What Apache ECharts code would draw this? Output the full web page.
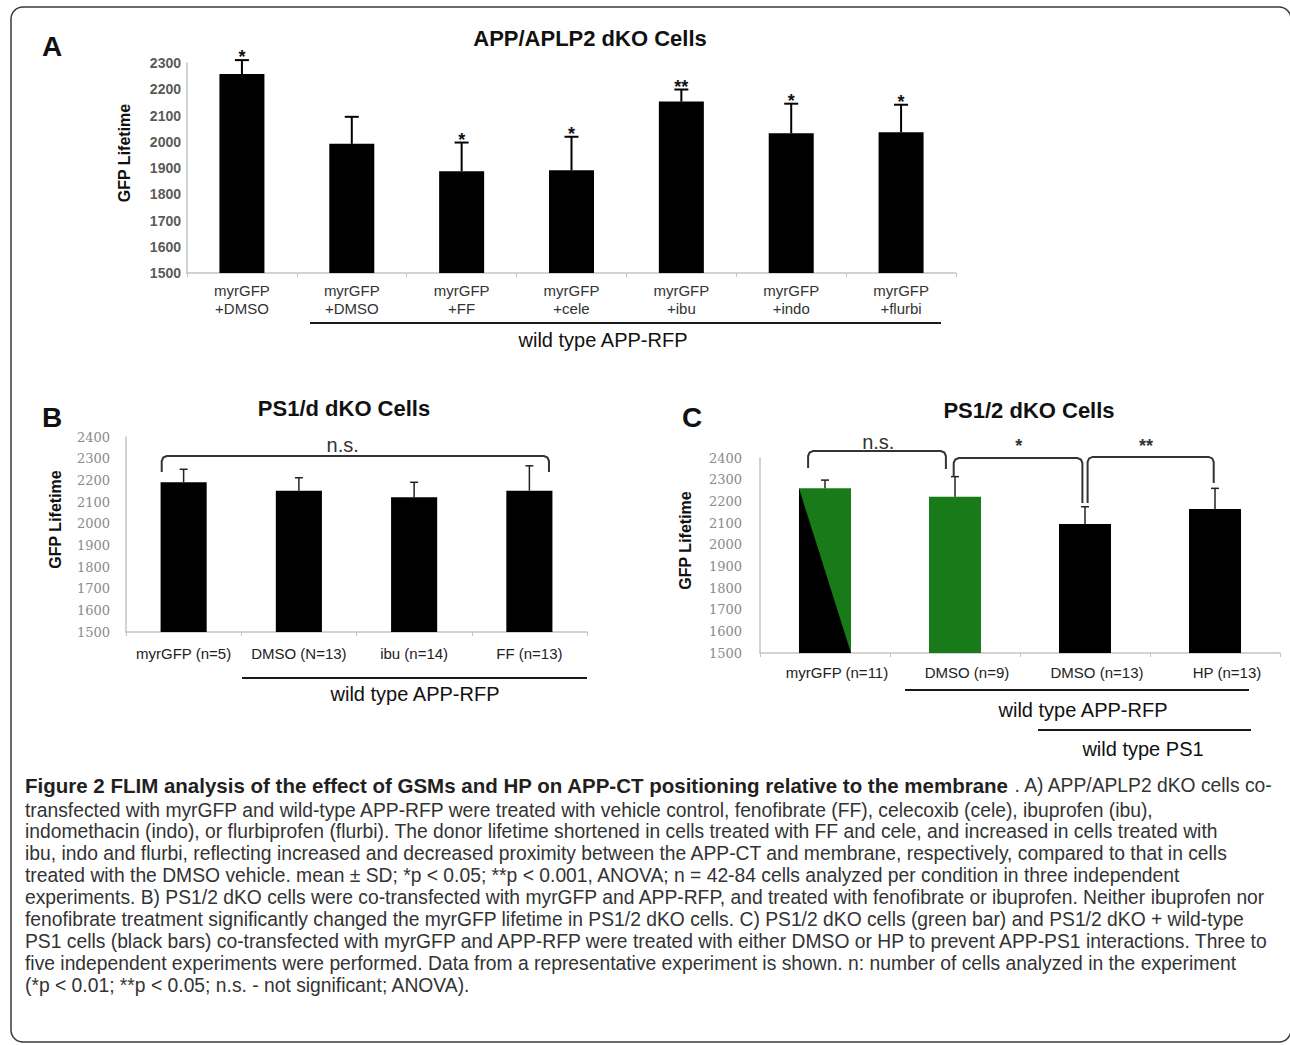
<!DOCTYPE html>
<html><head><meta charset="utf-8">
<script src="https://cdn.jsdelivr.net/npm/echarts@6/dist/echarts.min.js"></script>
<style>html,body{margin:0;padding:0;background:#fff}#c{width:1290px;height:1045px}</style>
</head><body><div id="c"></div>
<script>
// ---------- Panel A : APP/APLP2 dKO Cells ----------
const catsA = ['myrGFP\n+DMSO','myrGFP\n+DMSO','myrGFP\n+FF','myrGFP\n+cele','myrGFP\n+ibu','myrGFP\n+indo','myrGFP\n+flurbi'];
const meanA = [2258, 1992, 1888, 1891, 2153, 2032, 2036];
const sdA   = [53, 103, 109, 128, 46, 113, 105];
const sigA  = ['*', '', '*', '*', '**', '*', '*'];
const ticksA = {min: 1500, max: 2300, step: 100};

// ---------- Panel B : PS1/d dKO Cells ----------
const catsB = ['myrGFP (n=5)', 'DMSO (N=13)', 'ibu (n=14)', 'FF (n=13)'];
const meanB = [2191, 2152, 2122, 2152];
const sdB   = [60, 60, 69, 115];
const brFromB = [-0.19], brToB = [3.17], brTopB = [2312], brLeftB = [2238], brRightB = [2238];
const brTextB = ['n.s.'], brTextXB = [1.38], brTextYB = [2363];
const ticksB = {min: 1500, max: 2400, step: 100};

// ---------- Panel C : PS1/2 dKO Cells ----------
const catsC = ['myrGFP (n=11)', 'DMSO (n=9)', 'DMSO (n=13)', 'HP (n=13)'];
const meanC = [2260, 2221, 2095, 2165];
const sdC   = [38, 93, 80, 95];
const splitC = [true, false, false, false];      // half black / half green bar
const groupC = ['dKO', 'dKO', 'wtPS1', 'wtPS1'];  // green = dKO, black = +wt PS1
const brFromC = [-0.13, 0.99, 2.02], brToC = [0.93, 1.98, 2.99];
const brTopC = [2432, 2400, 2405], brLeftC = [2354, 2312, 2192], brRightC = [2349, 2192, 2285];
const brTextC = ['n.s.', '*', '**'], brTextXC = [0.41, 1.49, 2.47], brTextYC = [2475, 2455, 2455];
const ticksC = {min: 1500, max: 2400, step: 100};

// ---------- Caption ----------
const captionBold = 'Figure 2 FLIM analysis of the effect of GSMs and HP on APP-CT positioning relative to the membrane';
const captionLines = [
  ' . A) APP/APLP2 dKO cells co-',
  'transfected with myrGFP and wild-type APP-RFP were treated with vehicle control, fenofibrate (FF), celecoxib (cele), ibuprofen (ibu),',
  'indomethacin (indo), or flurbiprofen (flurbi). The donor lifetime shortened in cells treated with FF and cele, and increased in cells treated with',
  'ibu, indo and flurbi, reflecting increased and decreased proximity between the APP-CT and membrane, respectively, compared to that in cells',
  'treated with the DMSO vehicle. mean \u00b1 SD; *p < 0.05; **p < 0.001, ANOVA; n = 42-84 cells analyzed per condition in three independent',
  'experiments. B) PS1/2 dKO cells were co-transfected with myrGFP and APP-RFP, and treated with fenofibrate or ibuprofen. Neither ibuprofen nor',
  'fenofibrate treatment significantly changed the myrGFP lifetime in PS1/2 dKO cells. C) PS1/2 dKO cells (green bar) and PS1/2 dKO + wild-type',
  'PS1 cells (black bars) co-transfected with myrGFP and APP-RFP were treated with either DMSO or HP to prevent APP-PS1 interactions. Three to',
  'five independent experiments were performed. Data from a representative experiment is shown. n: number of cells analyzed in the experiment',
  '(*p < 0.01; **p < 0.05; n.s. - not significant; ANOVA).'
];

// ---------- styling ----------
const SANS = 'Liberation Sans, Arial, sans-serif';
const GREEN = '#187a18';
const AXIS_GRAY = '#c4c4c4';
const CAPF = 'Liberation Sans, Arial, sans-serif';
const CAP_SIZE = 19.3;
const CAP_BOLD = 20.5;

function bandX(api, v) {
  const a = api.coord([0, 0])[0], b = api.coord([1, 0])[0];
  return a + v * (b - a);
}

function errorSeries(idx, means, sds, opt) {
  return {
    type: 'custom', xAxisIndex: idx, yAxisIndex: idx, z: 5, clip: false,
    data: means.map((m, i) => [i, m + sds[i]]),
    renderItem: function (params, api) {
      const i = params.dataIndex;
      const p0 = api.coord([i, means[i]]);
      const p1 = api.coord([i, means[i] + sds[i]]);
      const ch = [
        {type: 'line', shape: {x1: p0[0], y1: p0[1], x2: p1[0], y2: p1[1]}, style: {stroke: opt.color, lineWidth: opt.lw}},
        {type: 'line', shape: {x1: p1[0] - opt.cap, y1: p1[1], x2: p1[0] + opt.cap, y2: p1[1]}, style: {stroke: opt.color, lineWidth: opt.lw}}
      ];
      if (opt.sig && opt.sig[i]) {
        ch.push({type: 'text', x: p1[0], y: p1[1] - 3, style: {text: opt.sig[i], align: 'center', verticalAlign: 'middle',
          font: 'bold 18px ' + SANS, fill: '#111'}});
      }
      return {type: 'group', children: ch};
    }
  };
}

function bracketSeries(idx, from, to, top, left, right, texts, tx, ty) {
  return {
    type: 'custom', xAxisIndex: idx, yAxisIndex: idx, z: 6, clip: false,
    data: from.map((f, i) => [0, top[i]]),
    renderItem: function (params, api) {
      const i = params.dataIndex;
      const x0 = bandX(api, from[i]), x1 = bandX(api, to[i]);
      const yt = api.coord([0, top[i]])[1];
      const yl = api.coord([0, left[i]])[1];
      const yr = api.coord([0, right[i]])[1];
      const r = 5;
      const ch = [{
        type: 'polyline',
        shape: {points: [[x0, yl], [x0, yt + r], [x0 + 1.5, yt + 1.5], [x0 + r, yt], [x1 - r, yt], [x1 - 1.5, yt + 1.5], [x1, yt + r], [x1, yr]]},
        style: {stroke: '#333', lineWidth: 2, fill: null}
      }];
      const isStar = texts[i].indexOf('*') >= 0;
      ch.push({type: 'text', x: bandX(api, tx[i]), y: api.coord([0, ty[i]])[1],
        style: {text: texts[i], align: 'center', verticalAlign: 'middle',
          font: (isStar ? 'bold 18px ' : '20px ') + SANS, fill: '#333'}});
      return {type: 'group', children: ch};
    }
  };
}

function yAxisCfg(idx, t, o) {
  return {
    gridIndex: idx, type: 'value', min: t.min, max: t.max, interval: t.step,
    splitLine: {show: false},
    axisLine: {show: true, lineStyle: {color: AXIS_GRAY, width: 1.5}},
    axisTick: {show: false},
    axisLabel: Object.assign({formatter: function (v) { return String(v); }}, o.label),
    name: 'GFP Lifetime', nameLocation: 'middle', nameGap: o.nameGap,
    nameTextStyle: {fontFamily: SANS, fontWeight: 'bold', fontSize: 16, color: '#111', padding: [0, 0, 0, 30]}
  };
}
function xAxisCfg(idx, cats, o) {
  return {
    gridIndex: idx, type: 'category', data: cats,
    axisLine: {show: true, lineStyle: {color: AXIS_GRAY, width: 1.5}},
    axisTick: {show: true, length: 4, lineStyle: {color: AXIS_GRAY}},
    axisLabel: Object.assign({interval: 0, fontFamily: SANS, color: '#222'}, o)
  };
}

const chart = echarts.init(document.getElementById('c'), null, {renderer: 'svg', width: 1290, height: 1045});

const graphics = [];
graphics.push({type: 'rect', shape: {x: 11, y: 7, width: 1280, height: 1035, r: 12},
  style: {fill: 'none', stroke: '#3a3a3a', lineWidth: 1.5}, z: 1});
function txt(x, y, s, font, extra) {
  graphics.push({type: 'text', x: x, y: y, z: 10, style: Object.assign({text: s, font: font, fill: '#111', align: 'center', verticalAlign: 'middle'}, extra || {})});
}
function hline(x1, x2, y) {
  graphics.push({type: 'line', z: 10, shape: {x1: x1, y1: y, x2: x2, y2: y}, style: {stroke: '#1a1a1a', lineWidth: 2}});
}
// panel letters & titles
txt(52, 46, 'A', 'bold 28px ' + SANS);
txt(590, 38, 'APP/APLP2 dKO Cells', 'bold 22px ' + SANS);
txt(52, 417, 'B', 'bold 28px ' + SANS);
txt(344, 408, 'PS1/d dKO Cells', 'bold 22px ' + SANS);
txt(692, 417, 'C', 'bold 28px ' + SANS);
txt(1029, 410, 'PS1/2 dKO Cells', 'bold 22px ' + SANS);
// group underlines
hline(310, 941, 323); txt(603, 340, 'wild type APP-RFP', '20px ' + SANS);
hline(242, 587, 678); txt(415, 694, 'wild type APP-RFP', '20px ' + SANS);
hline(905, 1249, 690); txt(1083, 710, 'wild type APP-RFP', '20px ' + SANS);
hline(1038, 1251, 730); txt(1143, 749, 'wild type PS1', '20px ' + SANS);
// caption
graphics.push({type: 'text', x: 25, y: 785, z: 10, style: {
  text: '{b|' + captionBold + '}{r|' + captionLines[0] + '}', verticalAlign: 'middle', align: 'left',
  rich: {b: {fontFamily: CAPF, fontWeight: 'bold', fontSize: CAP_BOLD, lineHeight: 22, fill: '#231f20'},
         r: {fontFamily: CAPF, fontSize: CAP_SIZE, lineHeight: 22, fill: '#333'}}}});
for (let k = 1; k < captionLines.length; k++) {
  graphics.push({type: 'text', x: 25, y: 810 + 21.9 * (k - 1), z: 10, style: {
    text: captionLines[k], font: CAP_SIZE + 'px ' + CAPF, lineHeight: 21, fill: '#333', align: 'left', verticalAlign: 'middle'}});
}

const option = {
  backgroundColor: '#fff',
  animation: false,
  grid: [
    {left: 187, right: 334, top: 63, bottom: 772},
    {left: 126, right: 703, top: 437, bottom: 413},
    {left: 760, right: 10, top: 458, bottom: 392}
  ],
  xAxis: [
    xAxisCfg(0, catsA, {fontSize: 15, lineHeight: 18, margin: 8, color: '#333'}),
    xAxisCfg(1, catsB, {fontSize: 15, margin: 14}),
    xAxisCfg(2, catsC, {fontSize: 15, margin: 12, padding: [0, 0, 0, 24]})
  ],
  yAxis: [
    yAxisCfg(0, ticksA, {nameGap: 55, label: {fontFamily: SANS, fontWeight: 'bold', fontSize: 14, color: '#5a5a5a', margin: 6}}),
    yAxisCfg(1, ticksB, {nameGap: 63, label: {fontFamily: 'DejaVu Serif, serif', fontSize: 13, color: '#8a8a8a', margin: 16}}),
    yAxisCfg(2, ticksC, {nameGap: 67, label: {fontFamily: 'DejaVu Serif, serif', fontSize: 13, color: '#8a8a8a', margin: 18}})
  ],
  series: [
    {type: 'bar', xAxisIndex: 0, yAxisIndex: 0, data: meanA, barWidth: 45, itemStyle: {color: '#000'}},
    errorSeries(0, meanA, sdA, {color: '#000', lw: 2, cap: 7, sig: sigA}),
    {type: 'bar', xAxisIndex: 1, yAxisIndex: 1, data: meanB, barWidth: '40%', itemStyle: {color: '#000'}},
    errorSeries(1, meanB, sdB, {color: '#222', lw: 1.5, cap: 4}),
    bracketSeries(1, brFromB, brToB, brTopB, brLeftB, brRightB, brTextB, brTextXB, brTextYB),
    {type: 'bar', xAxisIndex: 2, yAxisIndex: 2, data: meanC, barWidth: '40%',
      itemStyle: {color: function (p) { return groupC[p.dataIndex] === 'dKO' ? GREEN : '#000'; }}},
    {type: 'custom', xAxisIndex: 2, yAxisIndex: 2, z: 4,
      data: meanC.map((m, i) => [i, m]).filter((d, i) => splitC[i]),
      renderItem: function (params, api) {
        const i = api.value(0), m = api.value(1);
        const hw = api.size([1, 0])[0] * 0.4 / 2;
        const pt = api.coord([i, m]), pb = api.coord([i, ticksC.min]);
        return {type: 'polygon', shape: {points: [[pt[0] - hw, pt[1]], [pb[0] - hw, pb[1]], [pb[0] + hw, pb[1]]]},
          style: {fill: '#000'}};
      }},
    errorSeries(2, meanC, sdC, {color: '#222', lw: 1.5, cap: 4}),
    bracketSeries(2, brFromC, brToC, brTopC, brLeftC, brRightC, brTextC, brTextXC, brTextYC)
  ],
  graphic: graphics
};
chart.setOption(option);
</script>
</body></html>
